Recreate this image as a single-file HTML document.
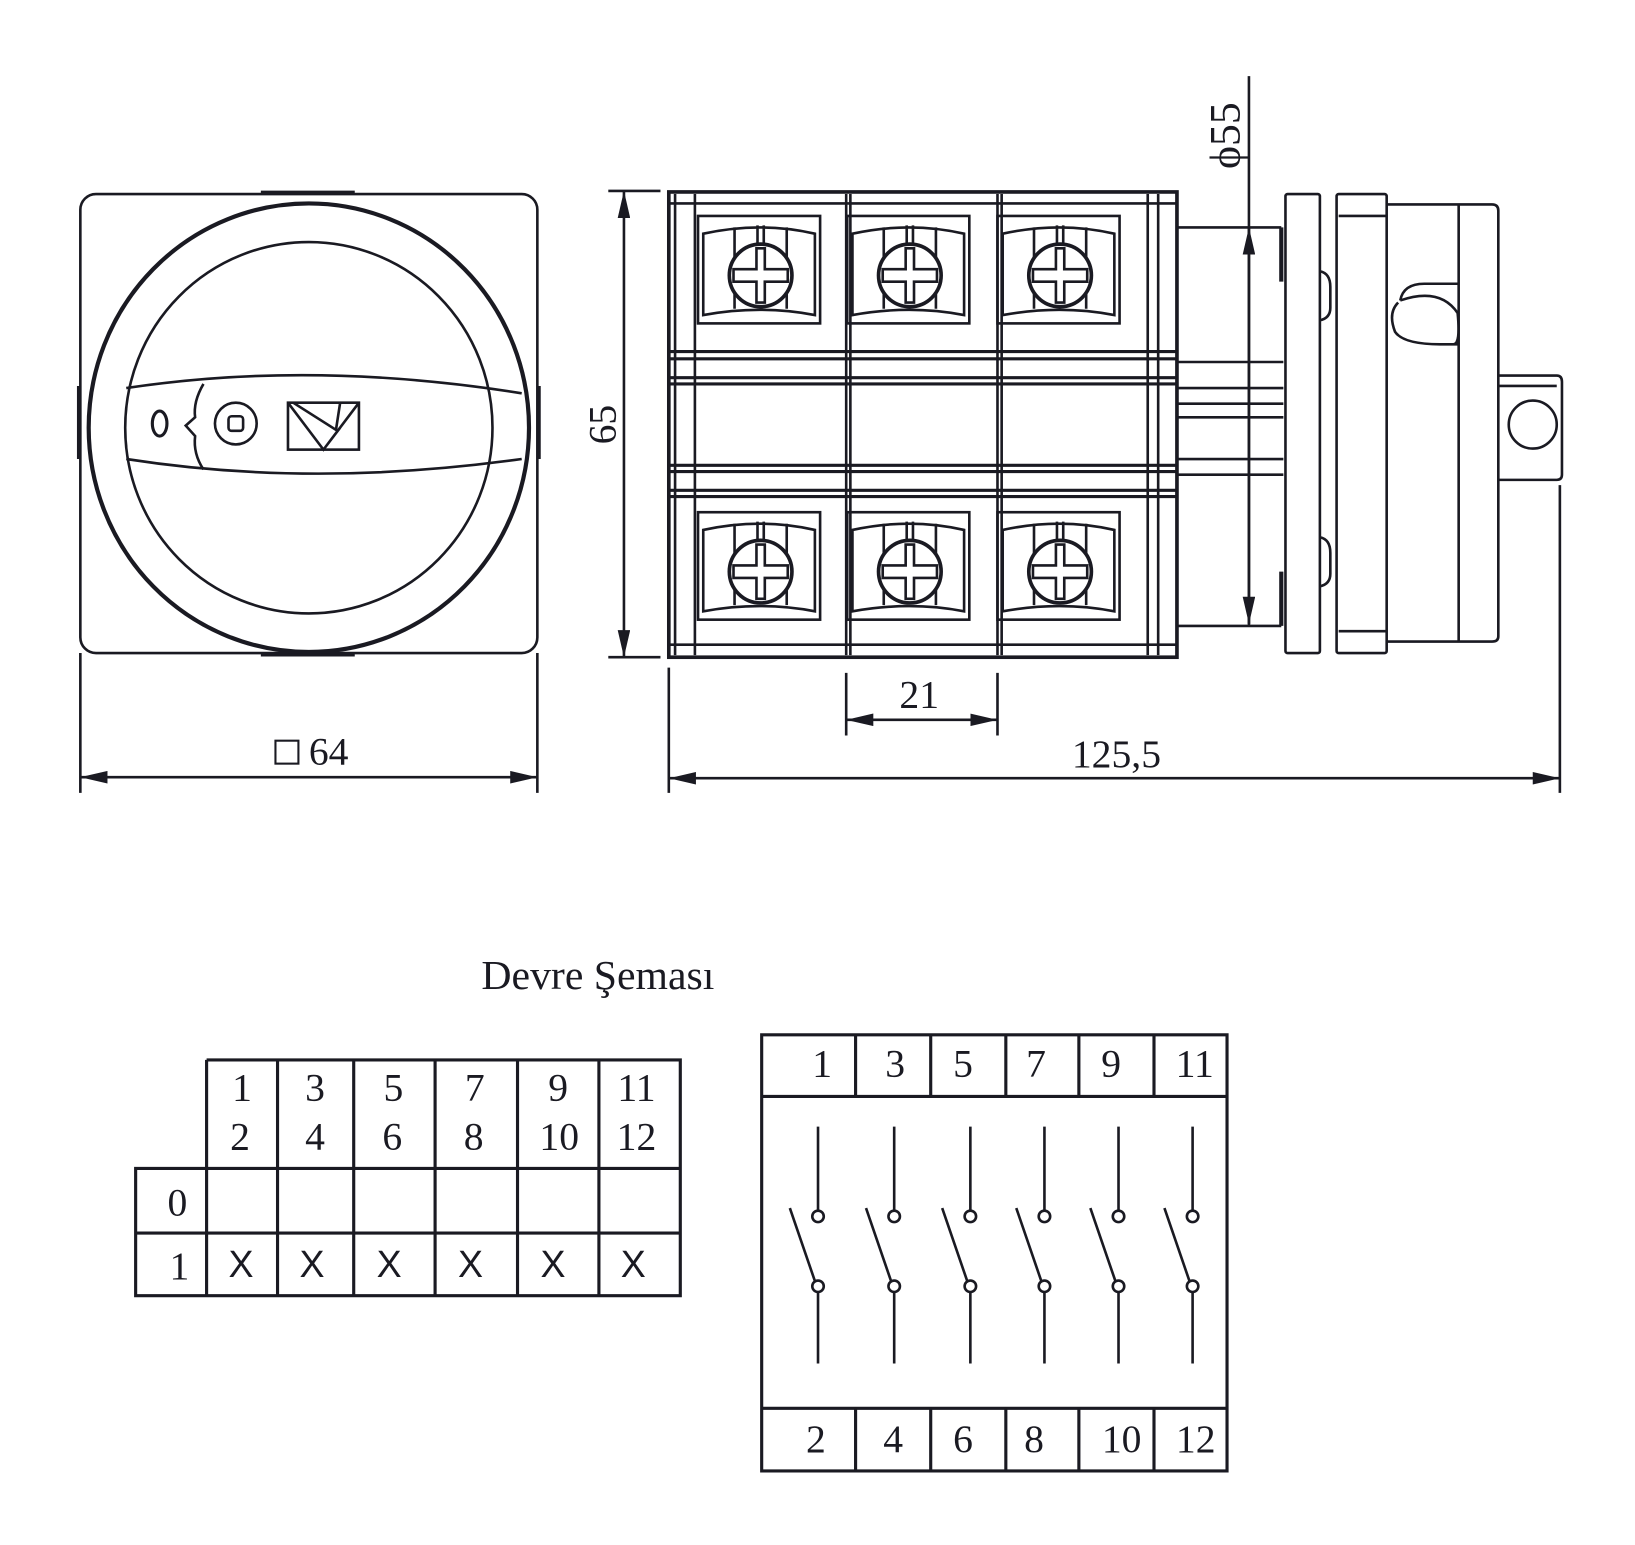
<!DOCTYPE html>
<html><head><meta charset="utf-8"><style>
html,body{margin:0;padding:0;background:#fff;}
svg{display:block}
text{font-family:"Liberation Serif",serif;fill:#1a1a22}
</style></head><body>
<svg width="1635" height="1545" viewBox="0 0 1567 1481" preserveAspectRatio="none" xmlns="http://www.w3.org/2000/svg">
<defs>
<g id="term" fill="none" stroke="#1a1a22" stroke-width="2.5">
  <rect x="-60" y="-57" width="117" height="103"/>
  <path d="M-55,-40 Q0,-52 52,-40 L52,38 Q0,28 -55,38 Z"/>
  <path d="M-25,-46 V32 M-3,-48 V30 M3,-48 V30 M25,-46 V32"/>
  <circle cx="0" cy="0" r="30" fill="#fff" stroke-width="3.5"/>
  <path d="M-4,-26 V-6 H-26 V6 H-4 V26 H4 V6 H26 V-6 H4 V-26 Z" stroke-width="2.5"/>
</g>
<marker id="ar" viewBox="0 0 26 12" refX="26" refY="6" markerWidth="26" markerHeight="12" markerUnits="userSpaceOnUse" orient="auto-start-reverse"><path d="M0,0 L26,6 L0,12 Z" fill="#1a1a22"/></marker>
</defs>
<g fill="none" stroke="#1a1a22" stroke-width="2.5">
<rect x="77" y="186" width="438" height="440" rx="15"/>
<path d="M250,184 H340 M250,628 H340 M75,370 V440 M517,370 V440"/>
<ellipse cx="296" cy="410" rx="211" ry="215" stroke-width="4"/>
<ellipse cx="296" cy="410" rx="176" ry="178"/>
<path d="M121,372 Q300,345 500,377 M121,440 Q300,468 500,440"/>
<path d="M195,368 Q185,385 187,400 L178,408 L187,418 Q185,435 195,450"/>
<ellipse cx="153" cy="406" rx="7" ry="12" stroke-width="3"/>
<circle cx="226" cy="406" r="20"/>
<rect x="219" y="399" width="14" height="14" rx="3"/>
<rect x="276" y="386" width="68" height="45"/>
<path d="M276,386 L310,431 L344,386 M281,386 L322,412 L326,386 M310,431 L326,410"/>
<path d="M77,626 V760 M515,626 V760"/>
<line x1="77" y1="745" x2="515" y2="745" marker-start="url(#ar)" marker-end="url(#ar)"/>
<rect x="264" y="710" width="22" height="22" stroke-width="2"/>

<rect x="641" y="184" width="487" height="446" stroke-width="3.5"/>
<path d="M647,186 V628 M666,186 V628 M811,186 V628 M815,186 V628 M956,186 V628 M960,186 V628 M1100,186 V628 M1110,186 V628"/>
<path d="M641,195 H1128 M641,618 H1128"/>
<path d="M641,337 H1128 M641,344 H1128 M641,362 H1128 M641,368 H1128 M641,446 H1128 M641,452 H1128 M641,470 H1128 M641,476 H1128" stroke-width="3"/>
<use href="#term" x="729" y="264"/>
<use href="#term" x="872" y="264"/>
<use href="#term" x="1016" y="264"/>
<use href="#term" x="729" y="548"/>
<use href="#term" x="872" y="548"/>
<use href="#term" x="1016" y="548"/>
<path d="M583,183 H633 M583,630 H633"/>
<line x1="598" y1="183" x2="598" y2="630" marker-start="url(#ar)" marker-end="url(#ar)"/>
<path d="M1128,218 H1228 M1128,600 H1228 M1128,347 H1230 M1128,372 H1230 M1128,387 H1230 M1128,400 H1230 M1128,440 H1230 M1128,455 H1230"/>
<path d="M1228,218 V270 M1228,548 V600" stroke-width="4"/>
<rect x="1232" y="186" width="33" height="440" rx="2"/>
<path d="M1265,260 Q1275,262 1275,275 V295 Q1275,305 1265,307 M1265,515 Q1275,517 1275,530 V550 Q1275,560 1265,562"/>
<rect x="1281" y="186" width="48" height="440" rx="2"/>
<path d="M1283,207 H1329 M1283,605 H1329"/>
<path d="M1329,196 H1430 Q1436,196 1436,202 V610 Q1436,615 1430,615 H1329"/>
<path d="M1398,196 V615"/>
<path d="M1342,288 Q1345,272 1365,272 H1397 M1340,290 Q1330,300 1337,318 Q1345,330 1380,330 H1397 M1342,288 Q1380,275 1397,300 Q1400,330 1393,330"/>
<path d="M1436,360 H1492 Q1497,360 1497,366 V455 Q1497,460 1492,460 H1436 M1436,370 H1492"/>
<circle cx="1469" cy="407" r="23"/>
<path d="M1197,73 V600"/>
<line x1="1197" y1="400" x2="1197" y2="218" marker-end="url(#ar)"/>
<line x1="1197" y1="400" x2="1197" y2="598" marker-end="url(#ar)"/>
<path d="M811,645 V705 M956,645 V705"/>
<line x1="811" y1="690" x2="956" y2="690" marker-start="url(#ar)" marker-end="url(#ar)"/>
<path d="M641,640 V760 M1495,465 V760"/>
<line x1="641" y1="746" x2="1495" y2="746" marker-start="url(#ar)" marker-end="url(#ar)"/>

<g stroke-width="3">
<path d="M198,1016 H652 V1242 H130 V1120 H652 M130,1182 H652 M198,1016 V1242 M266,1016 V1242 M339,1016 V1242 M417,1016 V1242 M496,1016 V1242 M574,1016 V1242"/>
<path d="M730,992 H1176 V1410 H730 Z M730,1051 H1176 M730,1350 H1176 M820,992 V1051 M892,992 V1051 M964,992 V1051 M1034,992 V1051 M1106,992 V1051 M820,1350 V1410 M892,1350 V1410 M964,1350 V1410 M1034,1350 V1410 M1106,1350 V1410"/>
</g>
<g stroke-width="2.5">
<path d="M784,1080 V1160 M784,1239 V1307 M757,1158 L781,1228"/>
<path d="M857,1080 V1160 M857,1239 V1307 M830,1158 L854,1228"/>
<path d="M930,1080 V1160 M930,1239 V1307 M903,1158 L927,1228"/>
<path d="M1001,1080 V1160 M1001,1239 V1307 M974,1158 L998,1228"/>
<path d="M1072,1080 V1160 M1072,1239 V1307 M1045,1158 L1069,1228"/>
<path d="M1143,1080 V1160 M1143,1239 V1307 M1116,1158 L1140,1228"/>
<circle cx="784" cy="1166" r="5.5"/><circle cx="857" cy="1166" r="5.5"/><circle cx="930" cy="1166" r="5.5"/><circle cx="1001" cy="1166" r="5.5"/><circle cx="1072" cy="1166" r="5.5"/><circle cx="1143" cy="1166" r="5.5"/>
<circle cx="784" cy="1233" r="5.5"/><circle cx="857" cy="1233" r="5.5"/><circle cx="930" cy="1233" r="5.5"/><circle cx="1001" cy="1233" r="5.5"/><circle cx="1072" cy="1233" r="5.5"/><circle cx="1143" cy="1233" r="5.5"/>
</g>
</g>

<g font-size="38">
<text x="296" y="733">64</text>
<text transform="translate(590,407) rotate(-90)" text-anchor="middle">65</text>
<text transform="translate(1188,130) rotate(-90)" text-anchor="middle" font-size="42">ϕ55</text>
<text x="881" y="678" text-anchor="middle">21</text>
<text x="1070" y="735" text-anchor="middle">125,5</text>
<text x="573" y="948" text-anchor="middle" font-size="40">Devre Şeması</text>
</g>
<g font-size="38" text-anchor="middle">
<text x="232" y="1055">1</text><text x="302" y="1055">3</text><text x="377" y="1055">5</text><text x="455" y="1055">7</text><text x="535" y="1055">9</text><text x="610" y="1055">11</text>
<text x="230" y="1102">2</text><text x="302" y="1102">4</text><text x="376" y="1102">6</text><text x="454" y="1102">8</text><text x="536" y="1102">10</text><text x="610" y="1102">12</text>
<text x="170" y="1165">0</text><text x="172" y="1226">1</text>
<text x="788" y="1032">1</text><text x="858" y="1032">3</text><text x="923" y="1032">5</text><text x="993" y="1032">7</text><text x="1065" y="1032">9</text><text x="1145" y="1032">11</text>
<text x="782" y="1392">2</text><text x="856" y="1392">4</text><text x="923" y="1392">6</text><text x="991" y="1392">8</text><text x="1075" y="1392">10</text><text x="1146" y="1392">12</text>
</g>
<g font-size="36" text-anchor="middle">
<text x="231" y="1224" style="font-family:'Liberation Sans',sans-serif">X</text><text x="299" y="1224" style="font-family:'Liberation Sans',sans-serif">X</text><text x="373" y="1224" style="font-family:'Liberation Sans',sans-serif">X</text><text x="451" y="1224" style="font-family:'Liberation Sans',sans-serif">X</text><text x="530" y="1224" style="font-family:'Liberation Sans',sans-serif">X</text><text x="607" y="1224" style="font-family:'Liberation Sans',sans-serif">X</text>
</g>
</svg>
</body></html>
